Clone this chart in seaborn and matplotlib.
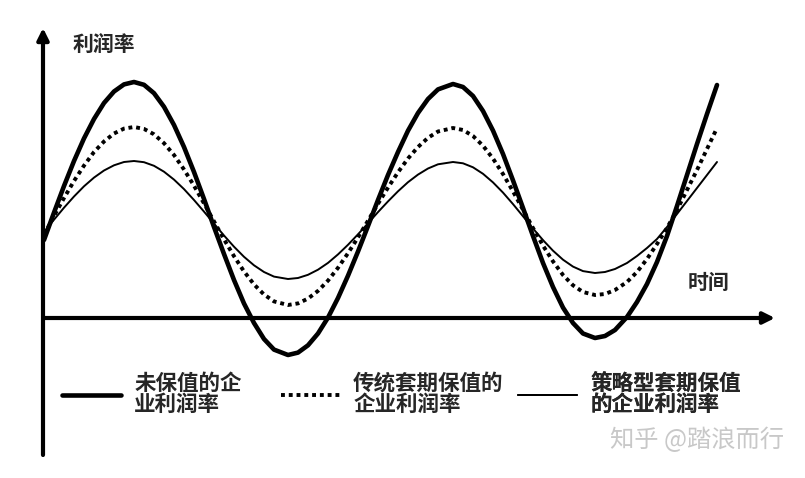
import matplotlib
matplotlib.use("Agg")
import matplotlib.pyplot as plt
import seaborn as sns

# time axis (arbitrary units)
time = [0, 10, 20, 30, 40, 50, 60, 70, 80, 90, 100, 110, 120, 130, 140, 150, 160, 170,
        180, 190, 200, 210, 220, 230, 244, 254, 264, 274, 284, 294, 304, 314, 324, 334,
        344, 354, 364, 374, 384, 394, 409, 419, 429, 439, 449, 459, 469, 479, 489, 499,
        509, 519, 529, 539, 551, 561, 571, 583, 593, 603, 613, 623, 633, 643, 653, 663, 673]

# profit rate of the unhedged firm
unhedged = [78, 105.4, 132, 157, 179.6, 199, 215, 226.5, 233.6, 236, 233.2, 224.8, 211.2,
            193, 171, 146, 119, 91, 64, 38, 14.5, -5, -21, -31.6, -37, -34.6, -27.3, -15.5,
            0.4, 20, 42.3, 66.5, 92, 118, 143, 166, 187.3, 205, 219, 228.6, 234, 231, 222,
            207, 187.4, 164, 137.6, 110, 82, 55, 31, 10.4, -5, -15.5, -20, -18, -12, 1, 16,
            34, 56, 82, 112, 143, 174, 204, 233]

# profit rate with traditional hedging
traditional = [83, 102, 120, 137, 152.4, 166, 176.5, 184.5, 189.4, 191, 189.1, 183.7, 174.8,
               163, 148.5, 132.3, 114.6, 96.6, 78.7, 61.8, 46.6, 33.6, 23.5, 16.6, 13, 14.6,
               19.4, 27.1, 37.4, 50.2, 64.8, 80.6, 97.3, 114.2, 130.4, 145.7, 159.5, 171,
               180.2, 186.5, 190, 188, 182, 172.3, 159.4, 144, 126.6, 108.3, 90, 72.4, 56.6,
               43, 32.7, 26, 23, 24, 28, 36, 46, 59, 74, 90, 108, 128, 148, 169, 190]

# profit rate with strategic hedging
strategic = [86, 98.3, 110.3, 121.5, 131.7, 140.4, 147.5, 152.7, 156, 157, 155.8, 152.2,
             146.3, 138.4, 128.9, 118, 106.4, 94.4, 82.5, 71.3, 61.2, 52.7, 46, 41.4, 39, 40,
             43.2, 48.3, 55.1, 63.6, 73.2, 83.7, 94.7, 105.9, 116.6, 126.7, 135.8, 143.4,
             149.5, 153.7, 156, 154.7, 150.7, 144.2, 135.6, 125.4, 113.9, 101.7, 89.5, 77.9,
             67.3, 58.3, 51.4, 46.9, 45, 46, 49, 55, 62, 70, 79, 91, 104, 117, 130, 143, 156]

labels = ["未保值的企\n业利润率", "传统套期保值的\n企业利润率", "策略型套期保值\n的企业利润率"]
y_label = "利润率"
x_label = "时间"
watermark = "知乎 @踏浪而行"

sns.set_theme(style="white")
plt.rcParams["font.family"] = ["Noto Sans CJK SC", "DejaVu Sans"]

fig = plt.figure(figsize=(8.05, 4.78), dpi=100)
ax = fig.add_axes([43 / 805, 23 / 478, 732 / 805, 427 / 478])

sns.lineplot(x=time, y=unhedged, ax=ax, color="black", linewidth=3.3, label=labels[0])
sns.lineplot(x=time, y=traditional, ax=ax, color="black", linewidth=2.8,
             linestyle=(0, (1, 1)), label=labels[1])
sns.lineplot(x=time, y=strategic, ax=ax, color="black", linewidth=1.4, label=labels[2])

ax.set_xlim(-1, 731)
ax.set_ylim(-137, 290)
ax.set_axis_off()

# axes drawn as arrows
arrow = dict(arrowstyle="-|>", lw=3, color="black", mutation_scale=17,
             shrinkA=0, shrinkB=0)
ax.annotate("", xy=(0, 1), xytext=(0, 0), xycoords="axes fraction",
            textcoords="axes fraction", arrowprops=arrow, annotation_clip=False)
ax.annotate("", xy=(1, 0), xytext=(0, 0), xycoords=("axes fraction", "data"),
            textcoords=("axes fraction", "data"), arrowprops=arrow, annotation_clip=False)

ax.text(0.041, 0.9625, y_label, transform=ax.transAxes, fontsize=15, fontweight="bold",
        va="center", ha="left")
ax.text(0.881, 0.403, x_label, transform=ax.transAxes, fontsize=15, fontweight="bold",
        va="center", ha="left")

# one legend per entry, spaced like the original
handles, names = ax.get_legend_handles_labels()
ax.get_legend().remove()
anchors = [62, 281, 518]
for h, n, x0 in zip(handles, names, anchors):
    leg = ax.legend([h], [n], loc="center left", bbox_to_anchor=(x0 / 805, 84 / 478),
                    bbox_transform=fig.transFigure, frameon=False, borderpad=0,
                    borderaxespad=0, handlelength=2.75, handletextpad=0.6,
                    prop={"weight": "bold", "size": 15.5})
    for t in leg.get_texts():
        t.set_linespacing(1.05)
    ax.add_artist(leg)

fig.text(610 / 805, 38 / 478, watermark, fontsize=17.5, color="#c8c8c8", va="center",
         ha="left")

fig.savefig("out.png", dpi=100, facecolor="white")
